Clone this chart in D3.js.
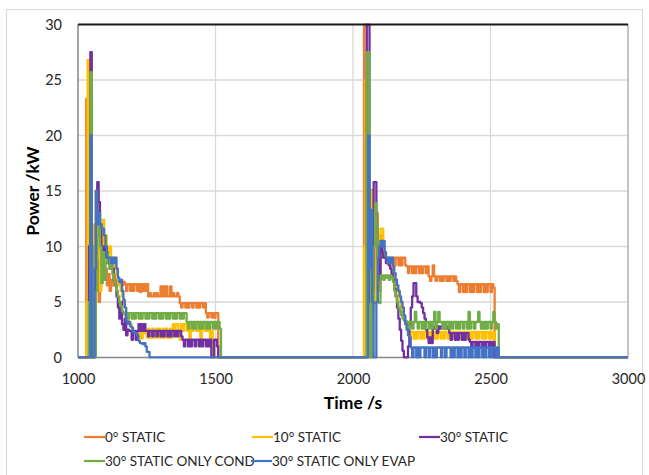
<!DOCTYPE html>
<html>
<head>
<meta charset="utf-8">
<script src="https://cdn.jsdelivr.net/npm/d3@7"></script>
<style>
  body { margin: 0; background: #fff; }
  svg { display: block; font-family: Lato, "Open Sans", sans-serif; }
</style>
</head>
<body>
<div id="chart"></div>
<script>
// sampled every 5 s, one array per series per run
const cycleStarts = [1025, 2035];
const sampleStep = 5;

const seriesNames = ['0° STATIC', '10° STATIC', '30° STATIC', '30° STATIC ONLY COND', '30° STATIC ONLY EVAP'];
const seriesColors = ['#ED7D31', '#FFC000', '#7030A0', '#70AD47', '#4472C4'];

const xTicks = [1000, 1500, 2000, 2500, 3000];
const yTicks = [0, 5, 10, 15, 20, 25, 30];

const orange1 = [
  0, 23.3, 12, 0, 0, 3, 8, 12, 15, 11,
  5, 6.5, 9, 8, 7.5, 8, 6.5, 7.5, 6, 7,
  6.5, 7.5, 6.5, 7, 7, 6.5, 7, 6.5, 6.8, 6.6,
  6.0, 6.6, 6.6, 6.0, 6.6, 6.0, 6.6, 6.6, 6.0, 6.6,
  5.9, 6.6, 6.0, 6.6, 6.0, 6.6, 5.5, 5.8, 5.5, 5.5,
  5.8, 5.5, 5.8, 5.5, 5.5, 6.4, 5.5, 6.4, 5.5, 6.4,
  5.5, 5.5, 6.4, 5.5, 5.8, 5.5, 5.5, 5.8, 5.5, 4.9,
  4.5, 4.9, 4.9, 4.5, 4.9, 4.5, 4.9, 4.9, 4.5, 4.9,
  4.9, 4.5, 4.9, 4.5, 4.9, 4.9, 4.5, 4.9, 4.0, 3.6,
  4.0, 4.0, 3.6, 4.0, 3.6, 4.0, 4.0
];
const orange2 = [
  0, 30, 30, 10, 0, 8, 15.1, 12, 4.9, 9,
  13, 8, 6, 11, 9, 10, 9, 8.5, 9, 8.5,
  9, 8.6, 9.0, 8.3, 9.0, 9.0, 8.3, 9.0, 8.3, 9.0,
  9.0, 8.3, 8.2, 7.6, 8.2, 8.2, 7.6, 8.2, 7.6, 8.2,
  8.2, 7.6, 8.2, 7.6, 8.2, 8.2, 7.6, 8.2, 7.3, 6.9,
  7.3, 8.3, 7.3, 6.9, 7.3, 7.3, 6.9, 7.3, 6.9, 7.3,
  7.3, 6.9, 7.3, 6.9, 7.3, 7.3, 6.9, 7.3, 6.9, 6.6,
  5.9, 6.6, 6.6, 5.9, 6.6, 5.9, 6.6, 6.6, 5.9, 6.6,
  5.9, 6.6, 6.6, 5.9, 6.6, 5.9, 6.6, 6.6, 5.9, 6.6,
  5.9, 6.6, 6.6, 5.9, 6.6, 6.3
];

const yellow1 = [
  0, 5, 26.8, 10, 0, 0, 6, 12, 15, 15,
  9, 6, 10, 12.4, 10, 11, 10, 9.5, 10, 9,
  8.5, 9, 8, 7.5, 7, 6.5, 6, 5.5, 5, 4.5,
  4, 3.5, 3.2, 3, 2.5, 2.2, 2.2, 2.2, 1.7, 2.2,
  2.2, 1.7, 2.2, 2.2, 2.2, 1.8, 2.6, 1.8, 1.8, 2.6,
  1.8, 1.8, 2.6, 1.8, 2.6, 1.8, 1.8, 2.6, 1.8, 2.6,
  1.8, 1.8, 2.6, 1.8, 3.0, 2.4, 3.0, 3.0, 2.4, 1.6,
  3.0, 2.4, 3.0, 3.0, 2.4, 3.0, 1.6, 3.0, 2.4, 3.0,
  3.0, 2.4, 3.0, 2.4, 1.6, 3.0, 3.0, 2.4, 3.0, 2.4,
  3.0, 1.6, 2.4
];
const yellow2 = [
  0, 10, 25, 8, 0, 6, 15, 14, 7, 5,
  9, 11, 10, 11.6, 11.6, 10, 9.5, 9, 8.5, 8.8,
  8.3, 8, 7.5, 7, 6.5, 6, 5.5, 5, 4.5, 4,
  3.5, 3, 2.7, 2.3, 1.7, 2.3, 2.3, 1.7, 2.3, 1.7,
  2.3, 2.3, 1.7, 2.3, 1.7, 2.3, 2.3, 1.7, 2.3, 1.7,
  2.3, 2.3, 1.7, 2.3, 1.7, 2.3, 2.3, 1.7, 2.3, 1.7,
  2.3, 2.3, 1.7, 2.3, 1.7, 2.3, 2.3, 1.7, 2.3, 1.7,
  2.3, 2.3, 1.7, 2.3, 1.7, 2.3, 2.3, 1.7, 2.3, 1.7,
  2.3, 2.3, 1.7, 2.3, 1.7, 2.3, 2.3, 1.7, 2.3, 1.7,
  2.3, 2.3, 1.7, 2.3, 1.7, 2.3
];

const purple1 = [
  0, 0, 0, 10, 27.5, 8, 0, 5, 12, 15.8,
  14, 12, 10, 9, 10, 9, 8.5, 9, 8, 8.5,
  8, 7, 6.5, 5.5, 4.5, 3.5, 5, 3, 2.5, 3.5,
  2, 2.5, 2.4, 2.4, 1.6, 2.4, 2.4, 1.6, 2.4, 3.0,
  2.4, 3.0, 2.4, 3.0, 2.4, 2.4, 1.9, 2.4, 2.4, 1.9,
  2.4, 2.4, 1.9, 2.4, 2.4, 1.9, 2.4, 1.9, 2.4, 2.4,
  1.9, 2.4, 1.9, 2.4, 2.4, 1.9, 2.4, 1.9, 2.4, 2.4,
  1.9, 1.6, 1.0, 1.6, 1.6, 1.0, 1.6, 1.0, 1.6, 1.6,
  1.0, 1.6, 1.6, 1.0, 1.6, 1.0, 1.6, 1.6, 1.0, 1.6,
  1.0, 1.6, 0, 0, 1.6, 1.6, 1.0
];
const purple2 = [
  0, 0, 0, 30, 30, 5, 0, 6, 15.8, 15.8,
  12, 9, 7, 10, 9.5, 9, 9, 8.5, 8.8, 8.3,
  8, 7.5, 7, 6.2, 5.5, 4.5, 3.5, 2.5, 1.5, 0.6,
  0, 0, 0, 1, 3, 4.5, 5.5, 6.7, 6.7, 5.5,
  5, 5, 4.9, 4.5, 4, 3.5, 2.5, 1.8, 1.3, 1.8,
  1.3, 2.8, 2.6, 2.8, 2.2, 2.8, 2.6, 2.8, 2.8, 2.6,
  2.8, 2.6, 2.8, 2.2, 1.6, 2.2, 2.2, 1.6, 2.2, 1.6,
  2.2, 2.2, 1.6, 2.2, 1.6, 2.2, 2.2, 1.6, 1.4, 0.9,
  1.4, 1.4, 0.9, 1.4, 0.9, 1.4, 1.4, 0.9, 1.4, 0.9,
  1.4, 1.4, 0.9, 1.4, 0.9, 1.4
];

const green1 = [
  0, 0, 0, 5, 25.7, 10, 0, 0, 6, 11,
  13, 10, 6.7, 9.5, 7, 8.5, 9.5, 9, 8, 8.5,
  7.5, 7, 6.5, 6, 5.5, 5, 4.6, 4.2, 4, 3.8,
  4.0, 3.5, 4.0, 4.0, 3.5, 4.0, 3.5, 4.0, 4.0, 3.5,
  4.0, 3.5, 4.0, 4.0, 3.5, 4.0, 3.5, 4.0, 4.0, 3.5,
  4.0, 3.5, 4.0, 4.0, 3.5, 4.0, 3.5, 4.0, 4.0, 3.5,
  4.0, 3.5, 4.0, 4.0, 3.5, 4.0, 3.5, 4.0, 4.0, 3.5,
  4.0, 3.5, 4.0, 4.0, 3.2, 2.6, 3.2, 3.2, 2.6, 3.2,
  2.6, 3.2, 3.2, 2.6, 3.2, 2.6, 3.2, 3.2, 2.6, 3.2,
  2.6, 3.2, 3.2, 2.6, 3.2, 2.6, 3.2, 3.2, 2.6
];
const green2 = [
  0, 0, 0, 27.5, 27.5, 10, 0, 5, 10, 13.9,
  12, 5, 4.9, 7.4, 7.4, 7, 7.4, 7.2, 7.4, 7,
  7.4, 7.2, 6.8, 6, 5.5, 5, 4.5, 4.2, 3.8, 3.5,
  3.3, 3.3, 3.2, 2.6, 3.2, 3.2, 2.6, 3.2, 4.1, 3.2,
  2.6, 3.2, 3.2, 2.6, 3.2, 2.6, 3.2, 3.2, 2.6, 3.2,
  2.6, 3.2, 4.1, 2.6, 3.2, 4.1, 3.2, 3.2, 2.6, 3.2,
  2.6, 3.2, 3.2, 2.6, 3.2, 2.6, 3.2, 3.2, 2.6, 3.2,
  2.6, 3.2, 3.2, 2.6, 3.2, 3.2, 2.6, 4.1, 2.6, 3.2,
  3.2, 2.6, 3.2, 3.2, 4.1, 3.2, 2.6, 3.2, 2.6, 3.2,
  2.6, 3.2, 3.2, 2.6, 3.2, 4.1, 3.2, 2.6, 3.0
];

const blue1 = [
  0, 0, 0, 0, 20, 0, 0, 8, 15, 12,
  13, 12, 11.6, 11.6, 11, 10, 9, 9, 9, 8.5,
  9, 8.5, 9, 8, 7.2, 6.8, 7, 6, 5.2, 4.5,
  3.3, 3, 3.2, 2.8, 2.7, 2.3, 2.2, 2.2, 2, 1.5,
  1.3, 1.3, 1.2, 1.3, 1.0, 0.5, 0.5
];
const blue2 = [
  0, 0, 0, 0, 20, 8, 13.3, 5, 0, 0,
  5, 9, 10, 10.5, 10, 10.5, 9.5, 9, 8.5, 9,
  8.5, 9, 8.2, 7.6, 7, 6.5, 6, 5.5, 5, 4.5,
  3.8, 3, 2.5, 2, 1.8, 0.9, 0, 0.9, 0.9, 0,
  0.9, 0, 0.9, 0.9, 0.9, 0, 0.9, 0.9, 0, 0.9,
  0.9, 0, 0.9, 0, 0.9, 0.9, 0.9, 0, 0.9, 0.9,
  0, 0.9, 0.9, 0.9, 0, 0.9, 0, 0.9, 0.9, 0,
  0.9, 0, 0.9, 0.9, 0, 0.9, 0.9, 0, 0.9, 0,
  0.9, 0.9, 0, 0.9, 0, 0.9, 0.9, 0, 0.9, 0,
  0.9, 0.9, 0, 0.9, 0, 0.9, 0.9, 0, 0.9
];

const seriesRuns = [
  [orange1, orange2],
  [yellow1, yellow2],
  [purple1, purple2],
  [green1, green2],
  [blue1, blue2]
];

// turn the two sampled runs into one [time, power] list, zero elsewhere
function toPoints(runs) {
  let pts = [[xTicks[0], 0]];
  runs.forEach((vals, k) => {
    let t0 = cycleStarts[k];
    vals.forEach((v, i) => pts.push([t0 + i * sampleStep, v]));
    pts.push([t0 + vals.length * sampleStep, 0]);
  });
  pts.push([xTicks[xTicks.length - 1], 0]);
  return pts;
}

const W = 649, H = 475;
const plot = { left: 78, right: 628, top: 24.5, bottom: 357.5 };

const svg = d3.select('#chart').append('svg')
  .attr('width', W)
  .attr('height', H);

// chart area border
svg.append('rect')
  .attr('x', 6.5).attr('y', 9.5)
  .attr('width', 636).attr('height', 480)
  .attr('fill', 'none')
  .attr('stroke', '#d9d9d9');

const x = d3.scaleLinear().domain([1000, 3000]).range([plot.left, plot.right]);
const y = d3.scaleLinear().domain([0, 30]).range([plot.bottom, plot.top]);

// gridlines
svg.append('g').selectAll('line.h')
  .data(yTicks.slice(1, -1))
  .join('line')
  .attr('x1', plot.left).attr('x2', plot.right)
  .attr('y1', d => y(d)).attr('y2', d => y(d))
  .attr('stroke', '#d9d9d9').attr('stroke-width', 1.3);

svg.append('g').selectAll('line.v')
  .data(xTicks.slice(1, -1))
  .join('line')
  .attr('y1', plot.top).attr('y2', plot.bottom)
  .attr('x1', d => x(d)).attr('x2', d => x(d))
  .attr('stroke', '#d9d9d9').attr('stroke-width', 1.3);

// plot frame
svg.append('line')
  .attr('x1', plot.right).attr('x2', plot.right)
  .attr('y1', plot.top).attr('y2', plot.bottom)
  .attr('stroke', '#a6a6a6').attr('stroke-width', 1.3);
svg.append('line')
  .attr('x1', plot.left).attr('x2', plot.left)
  .attr('y1', plot.top).attr('y2', plot.bottom)
  .attr('stroke', '#868686').attr('stroke-width', 1.5);
svg.append('line')
  .attr('x1', plot.left).attr('x2', plot.right)
  .attr('y1', plot.bottom).attr('y2', plot.bottom)
  .attr('stroke', '#868686').attr('stroke-width', 1.5);

// lines
svg.append('clipPath').attr('id', 'clip')
  .append('rect')
  .attr('x', plot.left).attr('y', plot.top - 1)
  .attr('width', plot.right - plot.left).attr('height', plot.bottom - plot.top + 2);

const line = d3.line()
  .x(d => x(d[0]))
  .y(d => y(d[1]))
  .curve(d3.curveStepAfter);

svg.append('g').attr('clip-path', 'url(#clip)')
  .selectAll('path')
  .data(seriesRuns.map(toPoints))
  .join('path')
  .attr('d', line)
  .attr('fill', 'none')
  .attr('stroke', (d, i) => seriesColors[i])
  .attr('stroke-width', 2.3)
  .attr('stroke-linejoin', 'round');

svg.append('line')
  .attr('x1', plot.left).attr('x2', plot.right)
  .attr('y1', plot.top).attr('y2', plot.top)
  .attr('stroke', '#1a1a1a').attr('stroke-width', 2);

// axes
const yAxis = svg.append('g')
  .attr('transform', `translate(${plot.left},0)`)
  .call(d3.axisLeft(y).tickValues(yTicks).tickSize(0).tickPadding(16));
const xAxis = svg.append('g')
  .attr('transform', `translate(0,${plot.bottom})`)
  .call(d3.axisBottom(x).tickValues(xTicks).tickSize(0).tickPadding(16).tickFormat(d3.format('d')));

[yAxis, xAxis].forEach(a => {
  a.select('.domain').remove();
  a.selectAll('text')
    .attr('font-family', 'Lato, sans-serif')
    .attr('font-size', 14.5)
    .attr('fill', '#262626');
});

svg.append('text')
  .attr('x', x(2000)).attr('y', 409)
  .attr('text-anchor', 'middle')
  .attr('font-weight', 'bold')
  .attr('font-size', 17.5)
  .attr('fill', '#000')
  .text('Time /s');

svg.append('text')
  .attr('transform', `translate(39,${(plot.top + plot.bottom) / 2}) rotate(-90)`)
  .attr('text-anchor', 'middle')
  .attr('font-weight', 'bold')
  .attr('font-size', 17.5)
  .attr('fill', '#000')
  .text('Power /kW');

// legend
const legendPos = [[84, 437], [252, 437], [419, 437], [84, 461], [251, 461]];
const legend = svg.append('g').selectAll('g')
  .data(seriesNames)
  .join('g')
  .attr('transform', (d, i) => `translate(${legendPos[i][0]},${legendPos[i][1]})`);

legend.append('line')
  .attr('x1', 0).attr('x2', 21)
  .attr('stroke', (d, i) => seriesColors[i])
  .attr('stroke-width', 2.2);

legend.append('text')
  .attr('x', 21).attr('dy', '0.35em')
  .attr('font-size', 13.5)
  .attr('fill', '#262626')
  .text(d => d);
</script>
</body>
</html>
